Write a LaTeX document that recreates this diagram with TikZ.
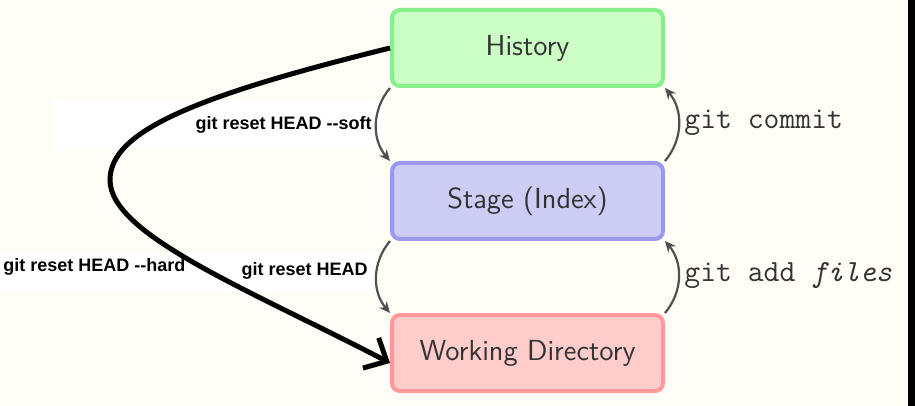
\documentclass[tikz,border=0pt]{standalone}
\usepackage{fontspec}
\newfontfamily\labelfont{Liberation Sans}
\usetikzlibrary{arrows.meta}
\definecolor{paper}{HTML}{FFFDF5}
\definecolor{histfill}{HTML}{CCFFC6}
\definecolor{histline}{HTML}{88EE88}
\definecolor{stagefill}{HTML}{CCCCF4}
\definecolor{stageline}{HTML}{9999EE}
\definecolor{workfill}{HTML}{FFCCCC}
\definecolor{workline}{HTML}{FF9999}
\definecolor{boxtext}{HTML}{333333}
\definecolor{flowgray}{HTML}{505050}
\begin{document}
\begin{tikzpicture}[x=0.5pt, y=-0.5pt,
    box/.style={draw, line width=2pt, rounded corners=4pt, minimum width=135.5pt,
        minimum height=38pt, text=boxtext, font=\sffamily\fontsize{14.5}{17}\selectfont},
    flow/.style={-{Stealth[length=5.5pt,width=5pt]}, draw=flowgray, line width=1.1pt},
    cmd/.style={anchor=west, inner sep=0pt, text=boxtext, font=\ttfamily\fontsize{15.4}{18}\selectfont},
    note/.style={inner sep=0pt, font=\labelfont\bfseries\fontsize{9}{11}\selectfont}]
    % page, pasted label patches and right edge
    \fill[paper] (0,0) rectangle (915,406);
    \useasboundingbox (0,0) rectangle (915,406);
    \fill[white] (53,100) rectangle (385,150);
    \fill[white] (0,252) rectangle (375,292);
    \fill[black] (908,0) rectangle (915,406);
    % areas
    \node[box, fill=histfill, draw=histline] (hist) at (527.5,48) {History};
    \node[box, fill=stagefill, draw=stageline] (stage) at (527.5,201) {Stage (Index)};
    \node[box, fill=workfill, draw=workline] (work) at (527.5,353) {Working Directory};
    % git commands
    \draw[flow] (hist.south west) to[bend right=40] (stage.north west);
    \draw[flow] (stage.south west) to[bend right=40] (work.north west);
    \draw[flow] (work.north east) to[bend right=40] (stage.south east);
    \draw[flow] (stage.north east) to[bend right=40] (hist.south east);
    \node[cmd] (commit) at (684,123) {git commit};
    \node[cmd] (add) at (684,276) {git add \textit{files}};
    \node[note, anchor=east] (soft) at (372,125) {git reset HEAD --soft};
    \node[note, anchor=east] (mixed) at (368,271) {git reset HEAD};
    \node[note, anchor=west] (hard) at (3,267) {git reset HEAD --hard};
    % reset --hard
    \draw[line width=2.5pt, -{Straight Barb[length=9pt,width=17pt]}]
        (hist.west) .. controls (200,95) and (110,130) .. (110,180)
        .. controls (110,235) and (250,290) .. ([yshift=-5pt]work.west);
\end{tikzpicture}
\end{document}
